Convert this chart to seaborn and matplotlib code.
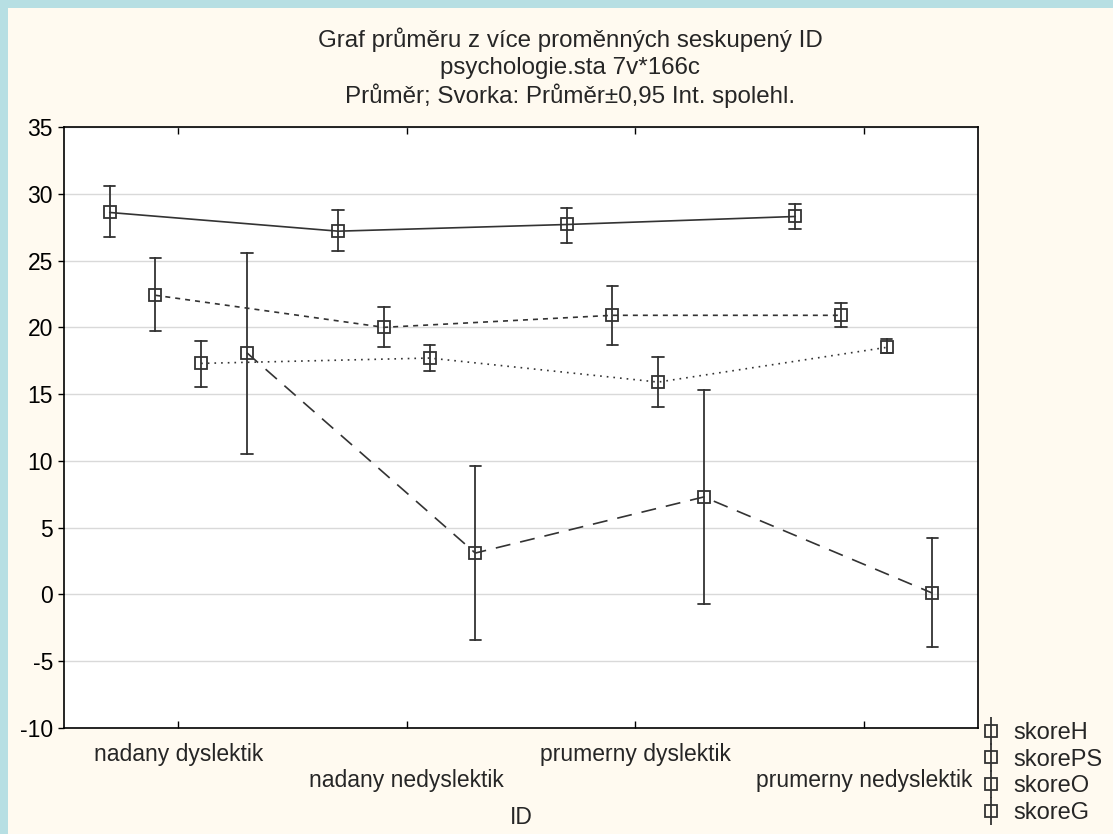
import numpy as np
import pandas as pd
import matplotlib
matplotlib.use("Agg")
import matplotlib.pyplot as plt
from matplotlib.patches import Rectangle
from matplotlib.legend_handler import HandlerErrorbar
import seaborn as sns

# Hodnoty (průměr a meze 95% int. spolehlivosti)
CATEGORIES = ["nadany dyslektik", "nadany nedyslektik", "prumerny dyslektik", "prumerny nedyslektik"]
SERIES = ["skoreH", "skorePS", "skoreO", "skoreG"]

H_MEAN = [28.6, 27.2, 27.7, 28.3]
H_LO = [26.8, 25.7, 26.3, 27.4]
H_HI = [30.6, 28.8, 28.9, 29.2]

PS_MEAN = [22.4, 20.0, 20.9, 20.9]
PS_LO = [19.7, 18.5, 18.7, 20.0]
PS_HI = [25.2, 21.5, 23.1, 21.8]

O_MEAN = [17.3, 17.7, 15.9, 18.5]
O_LO = [15.5, 16.7, 14.0, 18.1]
O_HI = [19.0, 18.7, 17.8, 19.1]

G_MEAN = [18.1, 3.1, 7.3, 0.1]
G_LO = [10.5, -3.4, -0.7, -3.9]
G_HI = [25.6, 9.6, 15.3, 4.2]

BLUE = "#b7dfe3"
CREAM = "#fffaf0"
INK = "#333333"

# Tabulka pro pointplot: (dolní mez, průměr, horní mez) -> medián = průměr, rozsah = interval
rows = []
for name, mean, lo, hi in zip(
    SERIES,
    [H_MEAN, PS_MEAN, O_MEAN, G_MEAN],
    [H_LO, PS_LO, O_LO, G_LO],
    [H_HI, PS_HI, O_HI, G_HI],
):
    for cat, m, l, h in zip(CATEGORIES, mean, lo, hi):
        for v in (l, m, h):
            rows.append({"ID": cat, "serie": name, "value": v})
df = pd.DataFrame(rows)

sns.set_theme(style="white")
plt.rcParams["font.family"] = ["Liberation Sans", "DejaVu Sans"]
plt.rcParams["axes.unicode_minus"] = False

fig = plt.figure(figsize=(11.13, 8.34), dpi=100, facecolor=BLUE)
fig.patches.append(Rectangle((8 / 1113, 0), 1, 1 - 8 / 834, transform=fig.transFigure,
                             facecolor=CREAM, edgecolor="none", zorder=-10))
ax = fig.add_axes([64 / 1113, 1 - 728 / 834, (978 - 64) / 1113, (728 - 127) / 834])
ax.set_facecolor("white")

sns.pointplot(
    data=df, x="ID", y="value", hue="serie", order=CATEGORIES, hue_order=SERIES,
    estimator="median", errorbar=("pi", 100), dodge=0.6,
    palette=[INK] * 4, markers="s", linestyles=["-", (0, (3, 3)), (0, (1, 3)), (0, (9, 6))],
    capsize=0.05, err_kws={"linewidth": 1.3}, linewidth=1.2,
    markersize=8.5, markerfacecolor="none", markeredgewidth=1.3,
    legend=False, ax=ax,
)

ax.set_ylim(-10, 35)
ax.set_xlim(-0.5, 3.5)
ax.set_yticks(np.arange(-10, 36, 5))
ax.yaxis.grid(True, color="#d9d9d9", linewidth=1)
ax.set_axisbelow(True)
for s in ax.spines.values():
    s.set_color("black")
    s.set_linewidth(1.2)

ax.tick_params(axis="y", direction="out", length=4, width=1, labelsize=16.5, pad=4,
               colors="black", left=True)
ax.tick_params(axis="x", direction="in", length=5, width=1, top=True, bottom=True, colors="black")
ax.set_xticks(range(len(CATEGORIES)))
ax.set_xticklabels([])
for i, cat in enumerate(CATEGORIES):
    ax.annotate(cat, xy=(i, 0), xycoords=("data", "axes fraction"),
                xytext=(0, -19 if i % 2 == 0 else -37.5), textcoords="offset points",
                ha="center", va="center", fontsize=16.5)
ax.set_xlabel("")
ax.set_ylabel("")
fig.text(521 / 1113, 1 - 818 / 834, "ID", ha="center", va="center", fontsize=16.5)

fig.text(570 / 1113, 1 - 40 / 834, "Graf průměru z více proměnných seskupený ID",
         ha="center", va="center", fontsize=17.4)
fig.text(570 / 1113, 1 - 68 / 834, "psychologie.sta 7v*166c",
         ha="center", va="center", fontsize=17.4)
fig.text(570 / 1113, 1 - 96 / 834, "Průměr; Svorka: Průměr±0,95 Int. spolehl.",
         ha="center", va="center", fontsize=17.4)

# legenda se symbolem chybové úsečky
handles = [ax.errorbar([], [], yerr=[], fmt="s", color=INK, markerfacecolor="none",
                       markersize=8, capsize=5, elinewidth=1.3, markeredgewidth=1.3)
           for _ in SERIES]
fig.legend(handles, SERIES, loc="upper left", bbox_to_anchor=(980 / 1113, 1 - 722 / 834),
           frameon=False, fontsize=17, handlelength=0.9, handletextpad=0.5,
           labelspacing=0.2, borderaxespad=0, borderpad=0,
           handler_map={type(handles[0]): HandlerErrorbar(xerr_size=0.6)})

fig.savefig("out.png", dpi=100, facecolor=BLUE)
